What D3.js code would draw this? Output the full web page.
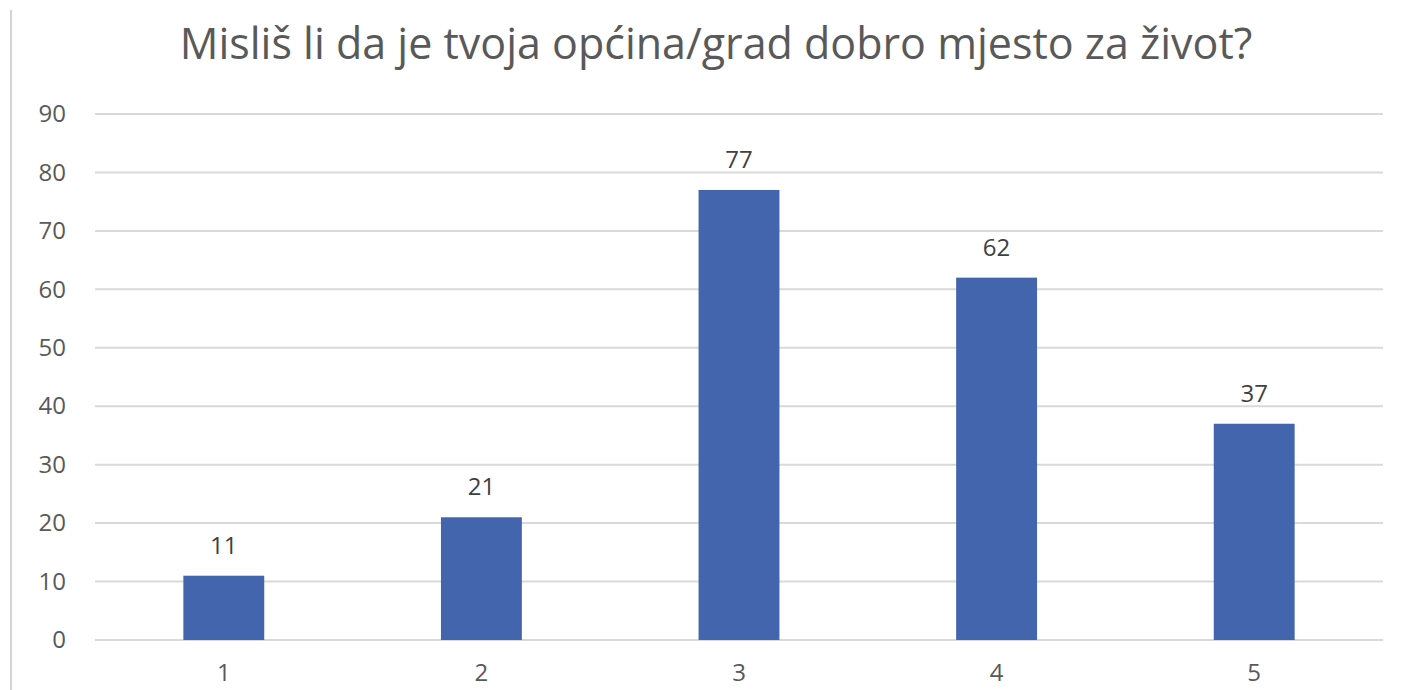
<!DOCTYPE html>
<html>
<head>
	<meta charset="utf-8">
	<script src="https://cdn.jsdelivr.net/npm/d3@7"></script>
	<style>
		body { margin: 0; background: #fff; }
		text { font-family: "Open Sans", sans-serif; fill: #595959; }
	</style>
</head>
<body>
	<svg width="1413" height="690"></svg>
	<script>
		var title = "Mislš li da je tvoja općina/grad dobro mjesto za život?".replace("Mislš", "Misliš");
		var categories = ["1", "2", "3", "4", "5"];
		var values = [11, 21, 77, 62, 37];
		var yTicks = [0, 10, 20, 30, 40, 50, 60, 70, 80, 90];

		var svg = d3.select("svg");

		// rub lijevo
		svg.append("line")
			.attr("x1", 11).attr("x2", 11)
			.attr("y1", 10).attr("y2", 690)
			.attr("stroke", "#d4d4d4").attr("stroke-width", 2);

		var x = d3.scaleBand()
			.domain(categories)
			.range([95, 1383])
			.paddingInner(0.686)
			.paddingOuter(0.343);

		var y = d3.scaleLinear()
			.domain([0, 90])
			.range([640, 114]);

		svg.append("text")
			.attr("x", 716).attr("y", 59)
			.attr("text-anchor", "middle")
			.style("font-size", "43px")
			.text(title);

		// mreža
		svg.append("g").selectAll("line")
			.data(yTicks)
			.join("line")
			.attr("x1", 95).attr("x2", 1383)
			.attr("y1", function(d) { return y(d); })
			.attr("y2", function(d) { return y(d); })
			.attr("stroke", "#d9d9d9").attr("stroke-width", 2);

		var yAxis = d3.axisLeft(y).tickValues(yTicks).tickSize(0).tickPadding(0);
		svg.append("g")
			.attr("transform", "translate(66,0)")
			.call(yAxis)
			.call(function(g) { g.select(".domain").remove(); })
			.selectAll("text")
			.style("font-size", "24px")
			.style("font-family", "'Open Sans', sans-serif")
			.attr("fill", "#595959");

		svg.append("g").selectAll("rect")
			.data(values)
			.join("rect")
			.attr("x", function(d, i) { return x(categories[i]); })
			.attr("width", x.bandwidth())
			.attr("y", function(d) { return y(d); })
			.attr("height", function(d) { return y(0) - y(d); })
			.attr("fill", "#4365ae");

		svg.append("g").selectAll("text")
			.data(values)
			.join("text")
			.attr("x", function(d, i) { return x(categories[i]) + x.bandwidth() / 2; })
			.attr("y", function(d) { return y(d) - 22; })
			.attr("text-anchor", "middle")
			.style("font-size", "24px")
			.style("fill", "#404040")
			.text(function(d) { return d; });

		// oznake kategorija (u originalu su odrezane na dnu)
		var xAxis = d3.axisBottom(x).tickSize(0).tickPadding(0);
		svg.append("g")
			.attr("transform", "translate(0,664)")
			.call(xAxis)
			.call(function(g) { g.select(".domain").remove(); })
			.selectAll("text")
			.style("font-size", "24px")
			.style("font-family", "'Open Sans', sans-serif")
			.attr("fill", "#595959");
	</script>
</body>
</html>
